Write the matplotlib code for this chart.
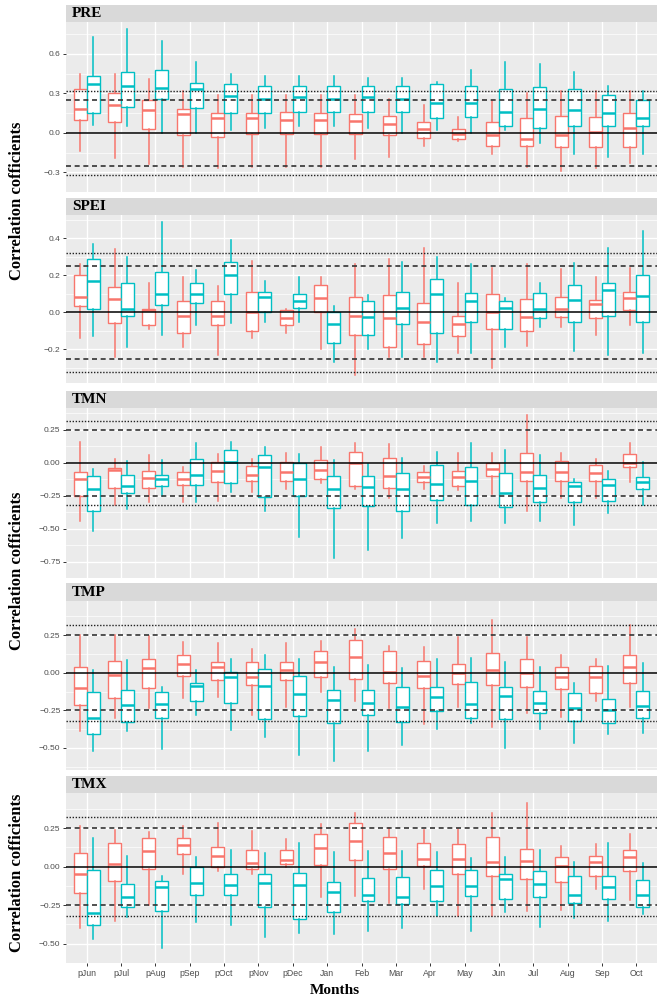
import matplotlib
matplotlib.use("Agg")
import matplotlib.pyplot as plt
from matplotlib.patches import Rectangle

months = ["pJun", "pJul", "pAug", "pSep", "pOct", "pNov", "pDec", "Jan", "Feb",
          "Mar", "Apr", "May", "Jun", "Jul", "Aug", "Sep", "Oct"]
panel_names = ["PRE", "SPEI", "TMN", "TMP", "TMX"]

# each entry: (lower whisker, Q1, median, Q3, upper whisker)
PRE_RED = [(-0.14, 0.10, 0.18, 0.33, 0.45), (-0.19, 0.08, 0.21, 0.30, 0.45), (-0.24, 0.03, 0.17, 0.25, 0.41),
           (-0.26, -0.02, 0.14, 0.18, 0.32), (-0.27, -0.03, 0.11, 0.15, 0.29), (-0.26, -0.01, 0.11, 0.15, 0.29),
           (-0.26, -0.01, 0.10, 0.16, 0.29), (-0.26, -0.01, 0.10, 0.15, 0.29), (-0.20, -0.01, 0.09, 0.14, 0.29),
           (-0.18, -0.02, 0.07, 0.13, 0.26), (-0.10, -0.04, 0.03, 0.08, 0.21), (-0.06, -0.05, -0.01, 0.03, 0.12),
           (-0.16, -0.10, -0.02, 0.08, 0.24), (-0.26, -0.10, -0.05, 0.11, 0.30), (-0.29, -0.11, -0.02, 0.13, 0.32),
           (-0.27, -0.11, 0.01, 0.12, 0.32), (-0.23, -0.11, 0.04, 0.15, 0.32)]
PRE_TEAL = [(0.06, 0.15, 0.37, 0.43, 0.73), (0.05, 0.20, 0.36, 0.46, 0.79), (0.00, 0.26, 0.34, 0.48, 0.70),
            (0.00, 0.19, 0.33, 0.38, 0.54), (0.02, 0.15, 0.28, 0.37, 0.45), (0.04, 0.15, 0.26, 0.36, 0.43),
            (0.05, 0.16, 0.27, 0.36, 0.43), (0.05, 0.16, 0.26, 0.36, 0.43), (0.04, 0.16, 0.27, 0.36, 0.42),
            (0.00, 0.16, 0.26, 0.36, 0.42), (0.02, 0.11, 0.23, 0.37, 0.39), (0.00, 0.12, 0.23, 0.36, 0.48),
            (0.02, 0.05, 0.16, 0.33, 0.54), (-0.08, 0.04, 0.18, 0.35, 0.52), (-0.16, 0.05, 0.17, 0.33, 0.46),
            (-0.18, 0.05, 0.15, 0.29, 0.36), (-0.16, 0.05, 0.11, 0.25, 0.32)]

SPEI_RED = [(-0.14, 0.034, 0.085, 0.20, 0.26), (-0.24, -0.056, 0.07, 0.135, 0.34), (-0.09, -0.07, 0.01, 0.02, 0.16),
            (-0.19, -0.11, -0.02, 0.06, 0.19), (-0.23, -0.07, -0.02, 0.06, 0.14), (-0.14, -0.10, 0.0, 0.11, 0.28),
            (-0.11, -0.07, -0.03, 0.01, 0.02), (-0.20, 0.0, 0.08, 0.145, 0.19), (-0.34, -0.125, -0.02, 0.085, 0.26),
            (-0.24, -0.19, -0.03, 0.095, 0.29), (-0.24, -0.17, -0.05, 0.05, 0.35), (-0.22, -0.13, -0.065, -0.02, 0.16),
            (-0.30, -0.09, 0.0, 0.10, 0.24), (-0.18, -0.10, -0.025, 0.07, 0.26), (-0.08, -0.025, 0.02, 0.085, 0.235),
            (-0.12, -0.03, 0.043, 0.067, 0.19), (-0.07, 0.01, 0.076, 0.11, 0.24)]
SPEI_TEAL = [(-0.13, 0.02, 0.17, 0.29, 0.37), (-0.19, -0.02, 0.02, 0.16, 0.30), (-0.12, 0.04, 0.10, 0.22, 0.49),
             (-0.07, 0.05, 0.10, 0.16, 0.23), (-0.06, 0.10, 0.20, 0.27, 0.39), (-0.05, 0.0, 0.085, 0.11, 0.17),
             (-0.055, 0.025, 0.06, 0.10, 0.19), (-0.27, -0.165, -0.065, 0.0, 0.035), (-0.20, -0.12, -0.025, 0.06, 0.095),
             (-0.24, -0.065, 0.025, 0.11, 0.27), (-0.27, -0.11, 0.10, 0.18, 0.30), (-0.22, -0.055, 0.06, 0.105, 0.26),
             (-0.19, -0.09, 0.025, 0.06, 0.08), (-0.08, -0.03, 0.018, 0.105, 0.16), (-0.21, -0.05, 0.067, 0.145, 0.265),
             (-0.23, -0.02, 0.12, 0.16, 0.35), (-0.22, -0.05, 0.09, 0.20, 0.44)]

TMN_RED = [(-0.44, -0.255, -0.127, -0.074, 0.16), (-0.32, -0.19, -0.058, -0.044, 0.03), (-0.30, -0.19, -0.116, -0.06, 0.06),
           (-0.30, -0.17, -0.127, -0.07, -0.03), (-0.29, -0.15, -0.063, 0.007, 0.065), (-0.225, -0.14, -0.093, -0.028, 0.03),
           (-0.20, -0.137, -0.074, 0.007, 0.07), (-0.155, -0.125, -0.056, 0.023, 0.12), (-0.20, -0.178, -0.005, 0.08, 0.153),
           (-0.27, -0.19, -0.10, 0.035, 0.14), (-0.20, -0.143, -0.11, -0.074, -0.028), (-0.21, -0.174, -0.11, -0.063, 0.07),
           (-0.236, -0.10, -0.05, -0.005, 0.072), (-0.37, -0.14, -0.074, 0.076, 0.36), (-0.27, -0.137, -0.074, 0.014, 0.07),
           (-0.266, -0.14, -0.079, -0.02, 0.03), (-0.15, -0.035, 0.0, 0.065, 0.146)]
TMN_TEAL = [(-0.52, -0.37, -0.197, -0.10, -0.05), (-0.35, -0.23, -0.18, -0.097, 0.01), (-0.25, -0.18, -0.12, -0.09, 0.02),
            (-0.30, -0.17, -0.093, 0.025, 0.146), (-0.22, -0.155, 0.007, 0.10, 0.16), (-0.37, -0.26, -0.035, 0.058, 0.118),
            (-0.567, -0.255, -0.127, 0.0, 0.065), (-0.72, -0.347, -0.197, -0.10, 0.02), (-0.66, -0.33, -0.185, -0.10, -0.01),
            (-0.57, -0.37, -0.20, -0.08, 0.037), (-0.46, -0.28, -0.16, -0.016, 0.08), (-0.44, -0.32, -0.137, -0.035, 0.15),
            (-0.456, -0.336, -0.23, -0.08, 0.10), (-0.44, -0.30, -0.19, -0.093, 0.06), (-0.47, -0.30, -0.174, -0.148, -0.127),
            (-0.38, -0.294, -0.167, -0.12, -0.062), (-0.32, -0.20, -0.144, -0.109, 0.007)]

TMP_RED = [(-0.39, -0.215, -0.10, 0.04, 0.25), (-0.30, -0.166, -0.015, 0.08, 0.25), (-0.237, -0.10, 0.03, 0.09, 0.243),
           (-0.17, -0.022, 0.055, 0.117, 0.205), (-0.16, -0.05, 0.04, 0.073, 0.20), (-0.28, -0.08, -0.027, 0.073, 0.155),
           (-0.226, -0.05, 0.018, 0.073, 0.195), (-0.126, -0.03, 0.073, 0.146, 0.21), (-0.19, -0.04, 0.106, 0.217, 0.294),
           (-0.237, -0.066, 0.007, 0.146, 0.18), (-0.34, -0.10, -0.022, 0.077, 0.168), (-0.226, -0.075, -0.004, 0.055, 0.24),
           (-0.36, -0.08, 0.018, 0.128, 0.35), (-0.27, -0.093, -0.004, 0.09, 0.24), (-0.296, -0.11, -0.027, 0.035, 0.12),
           (-0.186, -0.137, -0.03, 0.044, 0.088), (-0.226, -0.07, 0.04, 0.12, 0.316)]
TMP_TEAL = [(-0.52, -0.41, -0.30, -0.13, 0.018), (-0.39, -0.33, -0.215, -0.115, 0.084), (-0.51, -0.30, -0.21, -0.126, -0.093),
            (-0.28, -0.186, -0.09, -0.07, 0.018), (-0.38, -0.20, -0.03, 0.007, 0.088), (-0.425, -0.31, -0.086, 0.024, 0.12),
            (-0.55, -0.29, -0.144, -0.02, 0.088), (-0.59, -0.336, -0.18, -0.115, 0.04), (-0.52, -0.28, -0.20, -0.115, 0.05),
            (-0.48, -0.325, -0.226, -0.093, 0.033), (-0.376, -0.254, -0.164, -0.093, 0.088), (-0.336, -0.30, -0.21, -0.06, 0.10),
            (-0.50, -0.31, -0.155, -0.093, 0.073), (-0.376, -0.265, -0.20, -0.12, 0.04), (-0.465, -0.32, -0.232, -0.133, -0.066),
            (-0.407, -0.336, -0.248, -0.177, 0.046), (-0.40, -0.30, -0.22, -0.122, 0.062)]

TMX_RED = [(-0.40, -0.173, -0.045, 0.088, 0.26), (-0.35, -0.094, 0.017, 0.15, 0.237), (-0.25, -0.015, 0.098, 0.184, 0.226),
           (-0.047, 0.083, 0.14, 0.184, 0.263), (-0.03, -0.004, 0.066, 0.124, 0.28), (-0.047, -0.015, 0.02, 0.105, 0.23),
           (0.0, 0.017, 0.045, 0.11, 0.18), (-0.20, 0.013, 0.12, 0.21, 0.273), (-0.19, 0.045, 0.167, 0.28, 0.35),
           (-0.233, -0.013, 0.088, 0.19, 0.248), (-0.147, 0.002, 0.05, 0.15, 0.237), (-0.318, -0.05, 0.05, 0.147, 0.244),
           (-0.318, -0.058, 0.03, 0.19, 0.35), (-0.286, -0.083, 0.038, 0.115, 0.41), (-0.28, -0.098, 0.002, 0.06, 0.135),
           (-0.147, -0.062, 0.028, 0.066, 0.145), (-0.218, -0.026, 0.06, 0.11, 0.21)]
TMX_TEAL = [(-0.47, -0.38, -0.30, -0.02, 0.184), (-0.33, -0.26, -0.195, -0.11, 0.066), (-0.53, -0.29, -0.13, -0.094, -0.058),
            (-0.36, -0.184, -0.105, -0.004, 0.062), (-0.38, -0.184, -0.12, -0.047, 0.11), (-0.457, -0.26, -0.105, -0.047, 0.09),
            (-0.43, -0.34, -0.12, -0.04, 0.156), (-0.44, -0.297, -0.165, -0.098, 0.094), (-0.42, -0.22, -0.184, -0.073, 0.10),
            (-0.40, -0.244, -0.20, -0.066, 0.10), (-0.318, -0.226, -0.126, -0.02, 0.094), (-0.42, -0.19, -0.126, -0.02, 0.056),
            (-0.297, -0.207, -0.083, -0.047, 0.062), (-0.39, -0.197, -0.115, -0.026, 0.11), (-0.335, -0.233, -0.184, -0.062, 0.028),
            (-0.35, -0.21, -0.13, -0.062, 0.156), (-0.31, -0.26, -0.186, -0.088, 0.024)]

RED_SERIES = [PRE_RED, SPEI_RED, TMN_RED, TMP_RED, TMX_RED]
TEAL_SERIES = [PRE_TEAL, SPEI_TEAL, TMN_TEAL, TMP_TEAL, TMX_TEAL]

# y-axis setup per panel
Y_LIMITS = [(-0.371, 0.843), (-0.382, 0.526), (-0.766, 0.415), (-0.647, 0.477), (-0.619, 0.477)]
Y_TICKS = [[-0.3, 0.0, 0.3, 0.6], [-0.2, 0.0, 0.2, 0.4], [-0.75, -0.5, -0.25, 0.0, 0.25],
           [-0.5, -0.25, 0.0, 0.25], [-0.5, -0.25, 0.0, 0.25]]
Y_DECIMALS = [1, 1, 2, 2, 2]
REF_DASHED = 0.25
REF_DOTTED = 0.32

# ---------------- layout (pixels) ----------------
W, H = 667, 999
X0, X1 = 66, 657
LAYOUT = [(5, 22, 192), (198, 215, 383), (391, 408, 578), (583, 601, 770), (776, 793, 963)]

RED = "#F8766D"
TEAL = "#00BFC4"
SERIF = ["Liberation Serif", "DejaVu Serif"]
SANS = ["Liberation Sans", "DejaVu Sans"]

fig = plt.figure(figsize=(W / 100, H / 100), dpi=100)
fig.patch.set_facecolor("white")


def to_stats(rows):
    return [dict(whislo=r[0], q1=r[1], med=r[2], q3=r[3], whishi=r[4], fliers=[]) for r in rows]


n = len(months)
for p, name in enumerate(panel_names):
    st, pt, pb = LAYOUT[p]
    ax = fig.add_axes([X0 / W, 1 - pb / H, (X1 - X0) / W, (pb - pt) / H])
    ax.set_facecolor("#EBEBEB")
    for s in ax.spines.values():
        s.set_visible(False)

    # strip
    fig.add_artist(Rectangle((X0 / W, 1 - pt / H), (X1 - X0) / W, (pt - st) / H,
                             transform=fig.transFigure, facecolor="#D9D9D9", edgecolor="none"))
    fig.text(72 / W, 1 - (st + pt) / 2 / H, name, family=SERIF, fontweight="bold",
             fontsize=11, va="center", ha="left")

    ax.set_xlim(-0.6, n - 1 + 0.6)
    ax.set_ylim(*Y_LIMITS[p])
    ticks = Y_TICKS[p]
    ax.set_yticks(ticks)
    step = ticks[1] - ticks[0]
    minors = [t + step / 2 for t in [ticks[0] - step] + ticks]
    ax.set_yticks(minors, minor=True)
    ax.set_yticklabels([f"{t:.{Y_DECIMALS[p]}f}".replace("-", "\u2212") for t in ticks],
                       family=SANS, fontsize=6, color="#4D4D4D")
    ax.set_xticks(range(n))
    ax.grid(which="major", color="white", lw=1.0)
    ax.grid(which="minor", axis="y", color="white", lw=0.5)
    ax.set_axisbelow(True)
    ax.tick_params(axis="y", which="major", length=2.5, width=0.7, color="#333333", pad=1.5)
    ax.tick_params(axis="y", which="minor", length=0)
    if p == len(panel_names) - 1:
        ax.set_xticklabels(months, family=SANS, fontsize=6.3, color="#4D4D4D")
        ax.tick_params(axis="x", length=2.5, width=0.7, color="#333333", pad=2)
    else:
        ax.set_xticklabels([])
        ax.tick_params(axis="x", length=0)

    for rows, color, off in ((RED_SERIES[p], RED, -0.1875), (TEAL_SERIES[p], TEAL, 0.1875)):
        ax.bxp(to_stats(rows), positions=[i + off for i in range(n)], widths=0.375,
               patch_artist=True, showfliers=False, showcaps=False, manage_ticks=False,
               boxprops=dict(facecolor="white", edgecolor=color, linewidth=1.0),
               medianprops=dict(color=color, linewidth=1.8, solid_capstyle="butt"),
               whiskerprops=dict(color=color, linewidth=1.1))

    ax.axhline(0, color="black", lw=1.1, zorder=5)
    for v in (REF_DASHED, -REF_DASHED):
        ax.axhline(v, color="#333333", lw=1.2, zorder=5, dashes=(3.0, 2.2))
    for v in (REF_DOTTED, -REF_DOTTED):
        ax.axhline(v, color="#222222", lw=1.0, zorder=5, dashes=(1.0, 1.2))

for yc in (201, 571, 873):
    fig.text(17 / W, 1 - yc / H, "Correlation cofficients", rotation=90, ha="center", va="center",
             family=SERIF, fontweight="bold", fontsize=12)

fig.text(335 / W, 1 - 991 / H, "Months", ha="center", va="center", family=SERIF,
         fontweight="bold", fontsize=11)

fig.savefig("out.png", dpi=100)
